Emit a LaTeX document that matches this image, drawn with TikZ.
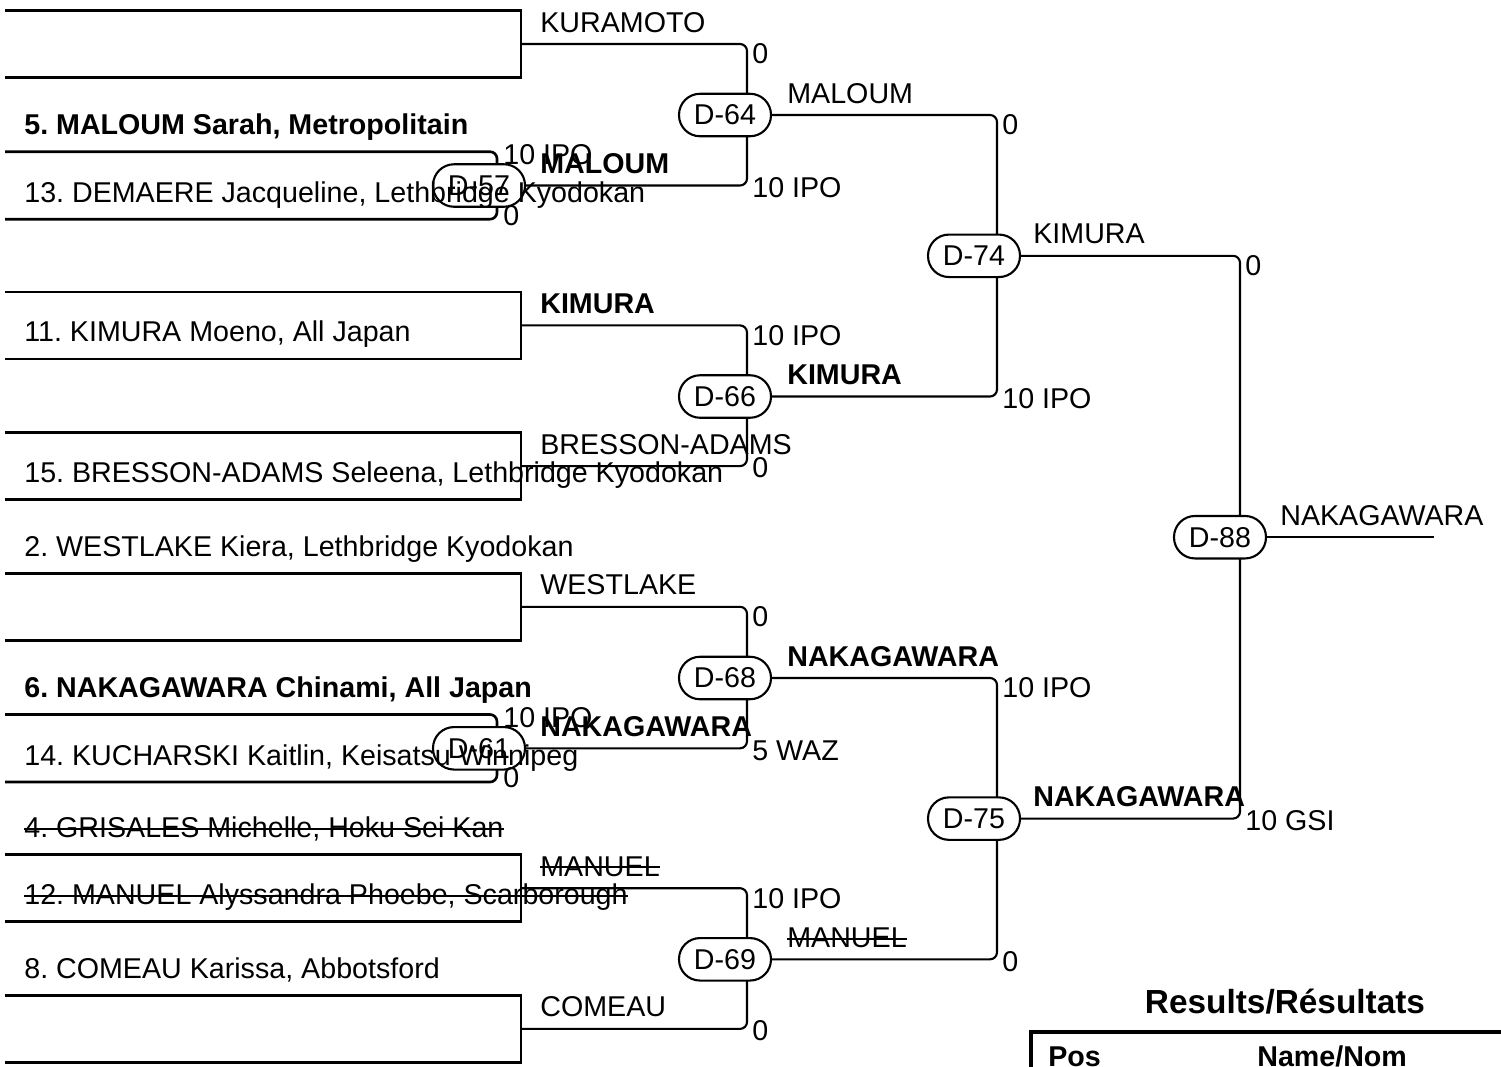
\documentclass[tikz,border=0pt]{standalone}
\usepackage{fontspec}
\setmainfont{Liberation Sans}
\usetikzlibrary{backgrounds,calc}
\tikzset{
  slot/.style={line width=1.5pt},
  wire/.style={line width=1.2pt, rounded corners=4pt},
  match/.style={draw, line width=1.2pt, fill=white, rounded corners=0.42cm,
    minimum width=1.84cm, minimum height=0.85cm, inner sep=0pt},
  who/.style={anchor=base west, inner sep=0pt},
  struck/.style={who, append after command={([yshift=5pt]\tikzlastnode.base west)
    edge[line width=1.1pt] ([yshift=5pt]\tikzlastnode.base east)}},
  score/.style={anchor=west, inner sep=0pt}
}
\frenchspacing

\begin{document}
\begin{tikzpicture}[x=0.02cm, y=-0.02cm, font=\fontsize{16.3}{19}\selectfont]
\useasboundingbox (0,0) rectangle (1501,1066);
% columns
\coordinate (v1) at (497,0);
\coordinate (v2) at (747,0);
\coordinate (v3) at (997,0);
\coordinate (v4) at (1240,0);
% first round lines
\coordinate (s5) at (5,151.7);
\coordinate (s13) at (5,219.2);
\coordinate (s6) at (5,714.5);
\coordinate (s14) at (5,782);
% bye boxes
\foreach \t/\n in {10.5/kura, 291.9/kimb, 432.6/bres, 573.3/west, 854.7/manb, 995.4/come}
{
  \draw[slot] (5,\t) -- (521,\t) -- (521,\t+67) -- (5,\t+67);
  \coordinate (\n) at (521,\t+33.5);
}
% matches
\node[match] (m57) at (479,185.5) {D-57};
\node[match] (m61) at (479,748.3) {D-61};
\node[match] (m64) at (725,115) {D-64};
\node[match] (m66) at (725,396.5) {D-66};
\node[match] (m68) at (725,678) {D-68};
\node[match] (m69) at (725,959.3) {D-69};
\node[match] (m74) at (974,255.8) {D-74};
\node[match] (m75) at (974,818.6) {D-75};
\node[match] (m88) at (1220,537.2) {D-88};
\coordinate (fin) at (1434,537.2);
% wires behind the matches
\begin{scope}[on background layer]
\draw[slot, rounded corners=4pt] (s5) -| (v1 |- s13) -- (s13);
\draw[slot, rounded corners=4pt] (s6) -| (v1 |- s14) -- (s14);
\draw[wire] (kura) -| (v2 |- m57) -- (m57.east);
\draw[wire] (kimb) -| (v2 |- bres) -- (bres);
\draw[wire] (west) -| (v2 |- m61) -- (m61.east);
\draw[wire] (manb) -| (v2 |- come) -- (come);
\draw[wire] (m64.east) -| (v3 |- m66) -- (m66.east);
\draw[wire] (m68.east) -| (v3 |- m69) -- (m69.east);
\draw[wire] (m74.east) -| (v4 |- m75) -- (m75.east);
\draw[wire] (m88.east) -- (fin);
\end{scope}
% competitors
\node[who] (n5) at (24,134.7) {\bfseries 5. MALOUM Sarah, Metropolitain};
\node[who] (n13) at (24,202.2) {13. DEMAERE Jacqueline, Lethbridge Kyodokan};
\node[who] (n11) at (24,341.9) {11. KIMURA Moeno, All Japan};
\node[who] (n15) at (24,482.6) {15. BRESSON-ADAMS Seleena, Lethbridge Kyodokan};
\node[who] (n2) at (24,556.3) {2. WESTLAKE Kiera, Lethbridge Kyodokan};
\node[who] (n6) at (24,697.5) {\bfseries 6. NAKAGAWARA Chinami, All Japan};
\node[who] (n14) at (24,765) {14. KUCHARSKI Kaitlin, Keisatsu Winnipeg};
\node[struck] (n4) at (24,837.7) {4. GRISALES Michelle, Hoku Sei Kan};
\node[struck] (n12) at (24,904.7) {12. MANUEL Alyssandra Phoebe, Scarborough};
\node[who] (n8) at (24,978.4) {8. COMEAU Karissa, Abbotsford};
% winners
\node[who] (wkura) at ($(kura)+(19,-12)$) {KURAMOTO};
\node[who] (w57) at ($(v1 |- m57)+(43,-12)$) {\bfseries MALOUM};
\node[who] (wkimb) at ($(kimb)+(19,-12)$) {\bfseries KIMURA};
\node[who] (wbres) at ($(bres)+(19,-12)$) {BRESSON-ADAMS};
\node[who] (wwest) at ($(west)+(19,-12)$) {WESTLAKE};
\node[who] (w61) at ($(v1 |- m61)+(43,-12)$) {\bfseries NAKAGAWARA};
\node[struck] (wmanb) at ($(manb)+(19,-12)$) {MANUEL};
\node[who] (wcome) at ($(come)+(19,-12)$) {COMEAU};
\node[who] (w64) at ($(v2 |- m64)+(40,-12)$) {MALOUM};
\node[who] (w66) at ($(v2 |- m66)+(40,-12)$) {\bfseries KIMURA};
\node[who] (w68) at ($(v2 |- m68)+(40,-12)$) {\bfseries NAKAGAWARA};
\node[struck] (w69) at ($(v2 |- m69)+(40,-12)$) {MANUEL};
\node[who] (w74) at ($(v3 |- m74)+(36,-12)$) {KIMURA};
\node[who] (w75) at ($(v3 |- m75)+(36,-12)$) {\bfseries NAKAGAWARA};
\node[who] (w88) at ($(v4 |- m88)+(40,-12)$) {NAKAGAWARA};
% scores
\node[score] (c57a) at ($(v1 |- s5)+(6,3)$) {10 IPO};
\node[score] (c57b) at ($(v1 |- s13)+(6,-4)$) {0};
\node[score] (c61a) at ($(v1 |- s6)+(6,3)$) {10 IPO};
\node[score] (c61b) at ($(v1 |- s14)+(6,-4)$) {0};
\node[score] (c64a) at ($(v2 |- kura)+(5,10)$) {0};
\node[score] (c64b) at ($(v2 |- m57)+(5,2)$) {10 IPO};
\node[score] (c66a) at ($(v2 |- kimb)+(5,10)$) {10 IPO};
\node[score] (c66b) at ($(v2 |- bres)+(5,2)$) {0};
\node[score] (c68a) at ($(v2 |- west)+(5,10)$) {0};
\node[score] (c68b) at ($(v2 |- m61)+(5,2)$) {5 WAZ};
\node[score] (c69a) at ($(v2 |- manb)+(5,10)$) {10 IPO};
\node[score] (c69b) at ($(v2 |- come)+(5,2)$) {0};
\node[score] (c74a) at ($(v3 |- m64)+(5,10)$) {0};
\node[score] (c74b) at ($(v3 |- m66)+(5,2)$) {10 IPO};
\node[score] (c75a) at ($(v3 |- m68)+(5,10)$) {10 IPO};
\node[score] (c75b) at ($(v3 |- m69)+(5,2)$) {0};
\node[score] (c88a) at ($(v4 |- m74)+(5,10)$) {0};
\node[score] (c88b) at ($(v4 |- m75)+(5,2)$) {10 GSI};
% results
\node[anchor=base, inner sep=0pt, font={\fontsize{19}{23}\selectfont\bfseries}] (res) at (1285,1013) {Results/Résultats};
\draw[line width=2.2pt] (1501,1032) -| (1031,1080);
\node[who] (pos) at (1048,1066) {\bfseries Pos};
\node[who] (nom) at (1257,1066) {\bfseries Name/Nom};
\end{tikzpicture}
\end{document}
